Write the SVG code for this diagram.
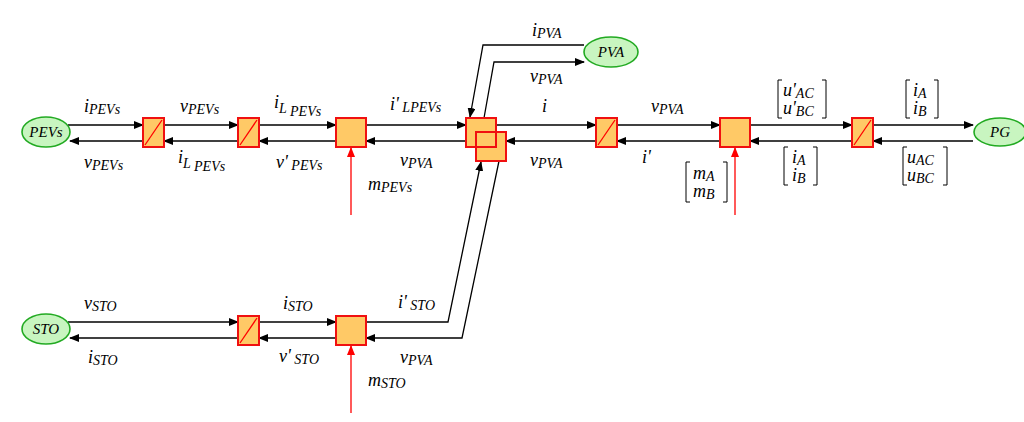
<svg xmlns="http://www.w3.org/2000/svg" width="1024" height="422" viewBox="0 0 1024 422">
<style>
.l{stroke:#000;stroke-width:1.3;fill:none}
.r{stroke:#f00;stroke-width:1.3;fill:none}
.b{fill:#ffc966;stroke:#f01010;stroke-width:2}
.e{fill:#c8f5c0;stroke:#22aa22;stroke-width:1.6}
text{font-family:"Liberation Serif","DejaVu Serif","Times New Roman",serif;font-style:italic;font-size:18px;fill:#000}
.n{font-size:15px;text-anchor:middle}
.s{font-size:14px}
.k{stroke:#000;stroke-width:1;fill:none}
</style>
<defs>
<marker id="a" markerWidth="10" markerHeight="8" refX="9" refY="4" orient="auto" markerUnits="userSpaceOnUse"><path d="M0,0L10,4L0,8z" fill="#000"/></marker>
<marker id="ar" markerWidth="10" markerHeight="8" refX="9" refY="4" orient="auto" markerUnits="userSpaceOnUse"><path d="M0,0L10,4L0,8z" fill="#f00"/></marker>
</defs>
<g id="connectors">
<path class="l" marker-end="url(#a)" d="M68,125H143"/>
<path class="l" marker-end="url(#a)" d="M143,141H70"/>
<path class="l" marker-end="url(#a)" d="M164,125H238"/>
<path class="l" marker-end="url(#a)" d="M238,141H164"/>
<path class="l" marker-end="url(#a)" d="M259,125H336"/>
<path class="l" marker-end="url(#a)" d="M336,141H259"/>
<path class="l" marker-end="url(#a)" d="M366,125H466"/>
<path class="l" marker-end="url(#a)" d="M466,141H366"/>
<path class="l" marker-end="url(#a)" d="M496,125H596"/>
<path class="l" marker-end="url(#a)" d="M596,141H506"/>
<path class="l" marker-end="url(#a)" d="M617,125H720"/>
<path class="l" marker-end="url(#a)" d="M720,141H617"/>
<path class="l" marker-end="url(#a)" d="M750,125H852"/>
<path class="l" marker-end="url(#a)" d="M852,141H750"/>
<path class="l" marker-end="url(#a)" d="M873,125H973"/>
<path class="l" marker-end="url(#a)" d="M973,141H873"/>
<path class="l" marker-end="url(#a)" d="M584,45H483L470,117"/>
<path class="l" marker-end="url(#a)" d="M484,118L494,62H584"/>
<path class="l" marker-end="url(#a)" d="M366,322H448L481,162"/>
<path class="l" marker-end="url(#a)" d="M499,161L462,338H366"/>
<path class="l" marker-end="url(#a)" d="M68,322H238"/>
<path class="l" marker-end="url(#a)" d="M238,338H70"/>
<path class="l" marker-end="url(#a)" d="M259,322H336"/>
<path class="l" marker-end="url(#a)" d="M336,338H259"/>
<path class="r" marker-end="url(#ar)" d="M351,215V148"/>
<path class="r" marker-end="url(#ar)" d="M735,215V148"/>
<path class="r" marker-end="url(#ar)" d="M351,413V346"/>
</g>
<g id="PEVs"><ellipse class="e" cx="46" cy="132" rx="24" ry="15"/><text class="n" x="46" y="137">PEVs</text></g>
<g id="STO"><ellipse class="e" cx="46" cy="329" rx="24" ry="15"/><text class="n" x="46" y="334">STO</text></g>
<g id="PVA"><ellipse class="e" cx="611" cy="52" rx="27" ry="15"/><text class="n" x="611" y="57">PVA</text></g>
<g id="PG"><ellipse class="e" cx="1000" cy="132" rx="26" ry="14"/><text class="n" x="1000" y="137">PG</text></g>
<g id="c1"><rect class="b" x="143" y="118" width="21" height="29"/><path class="r" d="M145,145L162,120"/></g>
<g id="c2"><rect class="b" x="238" y="118" width="21" height="29"/><path class="r" d="M240,145L257,120"/></g>
<g id="m1"><rect class="b" x="336" y="118" width="30" height="29"/></g>
<g id="jA"><rect class="b" x="466" y="118" width="30" height="29"/></g>
<g id="jB"><rect class="b" x="476" y="132" width="30" height="29"/><path style="fill:none;stroke:#f01010;stroke-width:2" d="M476,147H496V132"/></g>
<g id="c3"><rect class="b" x="596" y="118" width="21" height="29"/><path class="r" d="M598,145L615,120"/></g>
<g id="m2"><rect class="b" x="720" y="118" width="30" height="29"/></g>
<g id="c4"><rect class="b" x="852" y="118" width="21" height="29"/><path class="r" d="M854,145L871,120"/></g>
<g id="c5"><rect class="b" x="238" y="316" width="21" height="29"/><path class="r" d="M240,343L257,318"/></g>
<g id="m3"><rect class="b" x="336" y="316" width="30" height="29"/></g>
<g id="labels">
<text x="84" y="112">i<tspan class="s" dy="2">PEVs</tspan></text>
<text x="84" y="168">v<tspan class="s" dy="2">PEVs</tspan></text>
<text x="180" y="112">v<tspan class="s" dy="2">PEVs</tspan></text>
<text x="178" y="163">i<tspan class="s" dy="5">L</tspan><tspan class="s" dy="3"> PEVs</tspan></text>
<text x="274" y="108">i<tspan class="s" dy="5">L</tspan><tspan class="s" dy="3"> PEVs</tspan></text>
<text x="276" y="168">v'<tspan class="s" dy="2"> PEVs</tspan></text>
<text x="390" y="110">i'<tspan class="s" dy="2"> LPEVs</tspan></text>
<text x="400" y="166">v<tspan class="s" dy="2">PVA</tspan></text>
<text x="368" y="190">m<tspan class="s" dy="2">PEVs</tspan></text>
<text x="532" y="36">i<tspan class="s" dy="2">PVA</tspan></text>
<text x="530" y="82">v<tspan class="s" dy="2">PVA</tspan></text>
<text x="542" y="112">i</text>
<text x="530" y="166">v<tspan class="s" dy="2">PVA</tspan></text>
<text x="651" y="112">v<tspan class="s" dy="2">PVA</tspan></text>
<text x="642" y="163">i'</text>
<text x="84" y="309">v<tspan class="s" dy="2">STO</tspan></text>
<text x="88" y="363">i<tspan class="s" dy="2">STO</tspan></text>
<text x="283" y="309">i<tspan class="s" dy="2">STO</tspan></text>
<text x="279" y="362">v'<tspan class="s" dy="2"> STO</tspan></text>
<text x="398" y="308">i'<tspan class="s" dy="2"> STO</tspan></text>
<text x="400" y="363">v<tspan class="s" dy="2">PVA</tspan></text>
<text x="368" y="386">m<tspan class="s" dy="2">STO</tspan></text>
<g>
<path class="k" d="M782,80h-4v38h4M822,80h4v38h-4"/>
<text x="783" y="96">u'<tspan class="s" dy="2">AC</tspan></text>
<text x="783" y="114">u'<tspan class="s" dy="2">BC</tspan></text>
</g>
<g>
<path class="k" d="M910,80h-4v38h4M934,80h4v38h-4"/>
<text x="913" y="96">i<tspan class="s" dy="2">A</tspan></text>
<text x="913" y="114">i<tspan class="s" dy="2">B</tspan></text>
</g>
<g>
<path class="k" d="M788,147h-4v38h4M813,147h4v38h-4"/>
<text x="792" y="163">i<tspan class="s" dy="2">A</tspan></text>
<text x="792" y="181">i<tspan class="s" dy="2">B</tspan></text>
</g>
<g>
<path class="k" d="M907,147h-4v38h4M943,147h4v38h-4"/>
<text x="907" y="163">u<tspan class="s" dy="2">AC</tspan></text>
<text x="907" y="181">u<tspan class="s" dy="2">BC</tspan></text>
</g>
<g>
<path class="k" d="M690,162h-4v40h4M723,162h4v40h-4"/>
<text x="693" y="179">m<tspan class="s" dy="2">A</tspan></text>
<text x="693" y="197">m<tspan class="s" dy="2">B</tspan></text>
</g>
</g>
</svg>
